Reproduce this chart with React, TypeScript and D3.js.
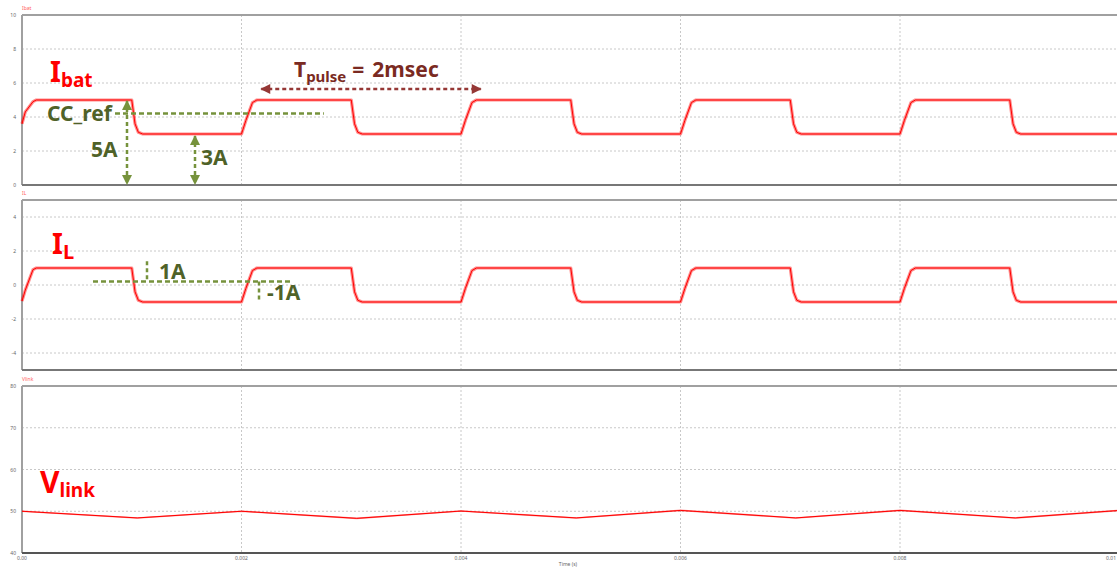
import React from "react";
import * as d3 from "d3";

const W = 1117;
const H = 567;

const xTicks = [0, 0.002, 0.004, 0.006, 0.008, 0.01];
const xTickLabels = ["0.00", "0.002", "0.004", "0.006", "0.008", "0.01"];

const ibatTicks = [0, 2, 4, 6, 8, 10];
const ilTicks = [-4, -2, 0, 2, 4];
const vlinkTicks = [40, 50, 60, 70, 80];

// Ibat (A) waveform breakpoints [time s, value]
const ibatPoints: [number, number][] = [
  [0, 3.6], [0.00003, 4.3], [0.0001, 4.9], [0.00013, 5],
  [0.001, 5], [0.00103, 3.6], [0.00106, 3.1], [0.0011, 3],
  [0.002, 3], [0.00204, 3.8], [0.0021, 4.85], [0.00214, 5],
  [0.003, 5], [0.00303, 3.6], [0.00306, 3.1], [0.0031, 3],
  [0.004, 3], [0.00404, 3.8], [0.0041, 4.85], [0.00414, 5],
  [0.005, 5], [0.00503, 3.6], [0.00506, 3.1], [0.0051, 3],
  [0.006, 3], [0.00604, 3.8], [0.0061, 4.85], [0.00614, 5],
  [0.007, 5], [0.00703, 3.6], [0.00706, 3.1], [0.0071, 3],
  [0.008, 3], [0.00804, 3.8], [0.0081, 4.85], [0.00814, 5],
  [0.009, 5], [0.00903, 3.6], [0.00906, 3.1], [0.0091, 3],
  [0.01, 3],
];

// IL (A) waveform breakpoints
const ilPoints: [number, number][] = [
  [0, -0.95], [0.00003, -0.3], [0.0001, 0.9], [0.00013, 1],
  [0.001, 1], [0.00103, -0.4], [0.00106, -0.9], [0.0011, -1],
  [0.002, -1], [0.00204, -0.2], [0.0021, 0.85], [0.00214, 1],
  [0.003, 1], [0.00303, -0.4], [0.00306, -0.9], [0.0031, -1],
  [0.004, -1], [0.00404, -0.2], [0.0041, 0.85], [0.00414, 1],
  [0.005, 1], [0.00503, -0.4], [0.00506, -0.9], [0.0051, -1],
  [0.006, -1], [0.00604, -0.2], [0.0061, 0.85], [0.00614, 1],
  [0.007, 1], [0.00703, -0.4], [0.00706, -0.9], [0.0071, -1],
  [0.008, -1], [0.00804, -0.2], [0.0081, 0.85], [0.00814, 1],
  [0.009, 1], [0.00903, -0.4], [0.00906, -0.9], [0.0091, -1],
  [0.01, -1],
];

// Vlink (V) waveform breakpoints
const vlinkPoints: [number, number][] = [
  [0, 50], [0.00105, 48.4], [0.002, 50], [0.00305, 48.3], [0.004, 50.05],
  [0.00505, 48.4], [0.006, 50.2], [0.00705, 48.4], [0.008, 50.2],
  [0.00905, 48.4], [0.01, 50.2],
];

const panels = [
  { title: "Ibat", top: 15, bottom: 185, domain: [0, 10], ticks: ibatTicks, data: ibatPoints, lineW: 3.2 },
  { title: "IL", top: 200, bottom: 370, domain: [-5, 5], ticks: ilTicks, data: ilPoints, lineW: 3.2 },
  { title: "Vlink", top: 386, bottom: 553, domain: [40, 80], ticks: vlinkTicks, data: vlinkPoints, lineW: 1.6 },
];

const LEFT = 22;
const x = d3.scaleLinear().domain([0, 0.01]).range([LEFT, 1119.5]);

const RED = "#ff0000";
const GREEN_LINE = "#76923c";
const GREEN_TEXT = "#4f6228";
const BROWN_LINE = "#953735";
const BROWN_TEXT = "#7a2a22";
const FONT = "'Noto Sans', 'Open Sans', sans-serif";

export default function App() {
  const scales = panels.map((p) =>
    d3.scaleLinear().domain(p.domain).range([p.bottom, p.top])
  );
  const y1 = scales[0];
  const y2 = scales[1];

  return (
    <svg
      width={W}
      height={H}
      style={{ position: "absolute", left: 0, top: 0, background: "#fff" }}
      fontFamily={FONT}
    >
      <defs>
        <marker id="agreen" viewBox="0 0 10 10" refX="9" refY="5" markerWidth="4" markerHeight="4" orient="auto-start-reverse">
          <path d="M0,0 L10,5 L0,10 z" fill={GREEN_LINE} />
        </marker>
        <marker id="abrown" viewBox="0 0 10 10" refX="9" refY="5" markerWidth="4.5" markerHeight="4" orient="auto-start-reverse">
          <path d="M0,0 L10,5 L0,10 z" fill={BROWN_LINE} />
        </marker>
      </defs>
      <rect x={0} y={0} width={W} height={H} fill="#fff" />
      {panels.map((p, i) => {
        const y = scales[i];
        const line = d3
          .line<[number, number]>()
          .x((d) => x(d[0]))
          .y((d) => y(d[1]));
        const path = line(p.data) || "";
        return (
          <g key={p.title}>
            {/* horizontal grid */}
            {p.ticks
              .filter((t) => y(t) > p.top + 2 && y(t) < p.bottom - 2)
              .map((t) => (
                <line key={"h" + t} x1={LEFT} x2={W} y1={y(t)} y2={y(t)} stroke="#c8c8c8" strokeWidth={1} strokeDasharray="2,2" />
              ))}
            {/* vertical grid */}
            {xTicks.slice(1, 5).map((t) => (
              <line key={"v" + t} x1={x(t)} x2={x(t)} y1={p.top} y2={p.bottom} stroke="#c8c8c8" strokeWidth={1} strokeDasharray="2,2" />
            ))}
            {/* frame */}
            <line x1={LEFT} x2={W} y1={p.top} y2={p.top} stroke="#a0a0a0" strokeWidth={2} />
            <line x1={LEFT} x2={LEFT} y1={p.top} y2={p.bottom} stroke="#a0a0a0" strokeWidth={2} />
            <line x1={LEFT} x2={W} y1={p.bottom} y2={p.bottom} stroke={i === 2 ? "#555" : "#777"} strokeWidth={2} />
            {/* tick labels */}
            {p.ticks.map((t) => (
              <text key={"t" + t} x={16} y={y(t) + 2} fontSize={5} textAnchor="end" fill="#666">
                {t}
              </text>
            ))}
            <text x={LEFT} y={p.top - 5} fontSize={5} fill="#ff6060">
              {p.title}
            </text>
            {/* trace */}
            <path d={path} fill="none" stroke={RED} strokeOpacity={0.45} strokeWidth={p.lineW} strokeLinejoin="round" />
            <path d={path} fill="none" stroke={RED} strokeWidth={1} strokeLinejoin="round" />
          </g>
        );
      })}

      {/* x tick labels */}
      {xTicks.map((t, i) => (
        <text
          key={"xl" + t}
          x={i === xTicks.length - 1 ? W - 1 : x(t)}
          y={560}
          fontSize={5}
          textAnchor={i === xTicks.length - 1 ? "end" : "middle"}
          fill="#666"
        >
          {xTickLabels[i]}
        </text>
      ))}
      <text x={568} y={566} fontSize={5} textAnchor="middle" fill="#666">
        Time (s)
      </text>

      {/* Ibat label */}
      <text x={50} y={82} fill={RED} fontWeight="bold">
        <tspan fontSize={28}>I</tspan>
        <tspan fontSize={19} dy={5}>bat</tspan>
      </text>
      {/* IL label */}
      <text x={52} y={254} fill={RED} fontWeight="bold">
        <tspan fontSize={28}>I</tspan>
        <tspan fontSize={20} dy={5}>L</tspan>
      </text>
      {/* Vlink label */}
      <text x={40} y={493} fill={RED} fontWeight="bold">
        <tspan fontSize={30}>V</tspan>
        <tspan fontSize={19} dy={4}>link</tspan>
      </text>

      {/* Tpulse annotation */}
      <text x={294} y={77} fill={BROWN_TEXT} fontWeight="bold">
        <tspan fontSize={21}>T</tspan>
        <tspan fontSize={15} dy={5}>pulse</tspan>
        <tspan fontSize={21} dy={-5} dx={6}>=</tspan>
        <tspan fontSize={21} dx={8}>2msec</tspan>
      </text>
      <line
        x1={x(0.00218)}
        x2={x(0.00418)}
        y1={89}
        y2={89}
        stroke={BROWN_LINE}
        strokeWidth={2.5}
        strokeDasharray="4,3"
        markerStart="url(#abrown)"
        markerEnd="url(#abrown)"
      />

      {/* CC_ref */}
      <text x={47} y={121} fill={GREEN_TEXT} fontWeight="bold" fontSize={21}>
        CC_ref
      </text>
      <line x1={115} x2={x(0.00275)} y1={y1(4.2)} y2={y1(4.2)} stroke={GREEN_LINE} strokeWidth={2.5} strokeDasharray="5,3" />
      {/* 5A arrow */}
      <line x1={127} x2={127} y1={y1(5) + 1} y2={y1(0) - 1} stroke={GREEN_LINE} strokeWidth={2.5} strokeDasharray="4,3" markerStart="url(#agreen)" markerEnd="url(#agreen)" />
      <text x={91} y={157} fill={GREEN_TEXT} fontWeight="bold" fontSize={21}>
        5A
      </text>
      {/* 3A arrow */}
      <line x1={195} x2={195} y1={y1(3) + 2} y2={y1(0) - 1} stroke={GREEN_LINE} strokeWidth={2.5} strokeDasharray="4,3" markerStart="url(#agreen)" markerEnd="url(#agreen)" />
      <text x={201} y={165} fill={GREEN_TEXT} fontWeight="bold" fontSize={21}>
        3A
      </text>

      {/* IL annotations */}
      <line x1={93} x2={292} y1={y2(0.2)} y2={y2(0.2)} stroke={GREEN_LINE} strokeWidth={2.5} strokeDasharray="5,3" />
      <line x1={147} x2={147} y1={y2(1.4)} y2={y2(0.2)} stroke={GREEN_LINE} strokeWidth={2.5} strokeDasharray="4,3" />
      <text x={159} y={279} fill={GREEN_TEXT} fontWeight="bold" fontSize={21}>
        1A
      </text>
      <line x1={259} x2={259} y1={y2(0.2)} y2={y2(-1)} stroke={GREEN_LINE} strokeWidth={2.5} strokeDasharray="4,3" />
      <text x={267} y={300} fill={GREEN_TEXT} fontWeight="bold" fontSize={21}>
        -1A
      </text>
    </svg>
  );
}
